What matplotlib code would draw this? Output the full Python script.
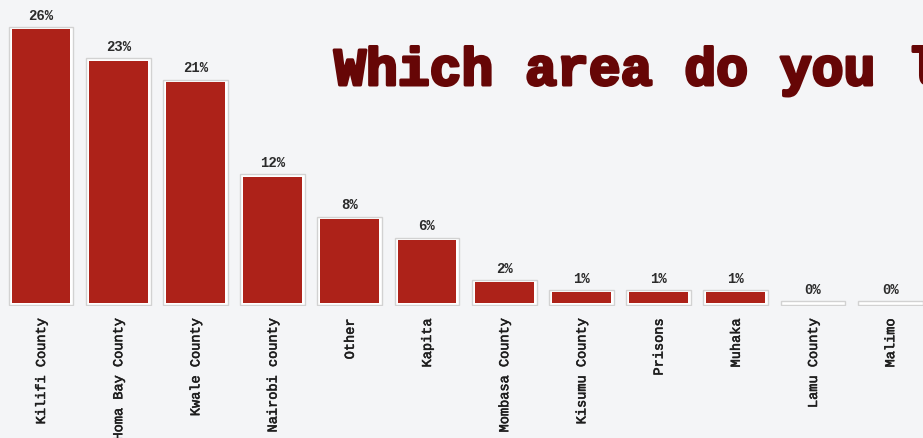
import matplotlib
matplotlib.use("Agg")
import matplotlib.pyplot as plt
import matplotlib.patheffects as pe

# Survey answers: share of respondents per area (%)
areas = ["Kilifi County", "Homa Bay County", "Kwale County", "Nairobi county",
         "Other", "Kapita", "Mombasa County", "Kisumu County", "Prisons",
         "Muhaka", "Lamu County", "Malimo"]
shares = [26, 23, 21, 12, 8, 6, 2, 1, 1, 1, 0, 0]

BAR_RED = "#ad2219"
TITLE_RED = "#660606"
BG = "#f4f5f7"
MONO = ["Liberation Mono", "DejaVu Sans Mono"]

fig = plt.figure(figsize=(9.23, 4.38), dpi=100, facecolor=BG)
ax = fig.add_axes([0, 0.301, 1, 0.699])
ax.set_facecolor("none")

x = range(len(areas))
pad = 0.2
# light frame behind each bar, then the red bar itself
ax.bar(x, [v + 2 * pad for v in shares], bottom=-pad, width=0.84,
       color="white", edgecolor="#d2d2d2", linewidth=1.0)
ax.bar(x, shares, width=0.76, color=BAR_RED, edgecolor="none")

for xi, v in zip(x, shares):
    ax.annotate(f"{v}%", xy=(xi, v + pad), xytext=(0, 3),
                textcoords="offset points", ha="center", va="bottom",
                fontsize=10, fontweight="bold", family=MONO, color="#2b2b2b")

ax.set_xlim(-0.531, 11.425)
ax.set_ylim(-0.3, 28.75)
ax.set_xticks(list(x))
ax.set_xticklabels(areas, rotation=90, family=MONO, fontsize=9.8,
                   color="#1e1e1e")
for lbl in ax.get_xticklabels():
    lbl.set_path_effects([pe.withStroke(linewidth=0.4, foreground="#1e1e1e")])
ax.tick_params(axis="x", length=0, pad=9)
ax.set_yticks([])
for s in ax.spines.values():
    s.set_visible(False)

title = fig.text(0.362, 0.806, "Which area do you live in?", family=MONO,
                 fontweight="bold", fontsize=38.2, color=TITLE_RED,
                 va="baseline")
title.set_path_effects([pe.withStroke(linewidth=2.2, foreground=TITLE_RED)])

plt.savefig("out.png", dpi=100, facecolor=BG)
